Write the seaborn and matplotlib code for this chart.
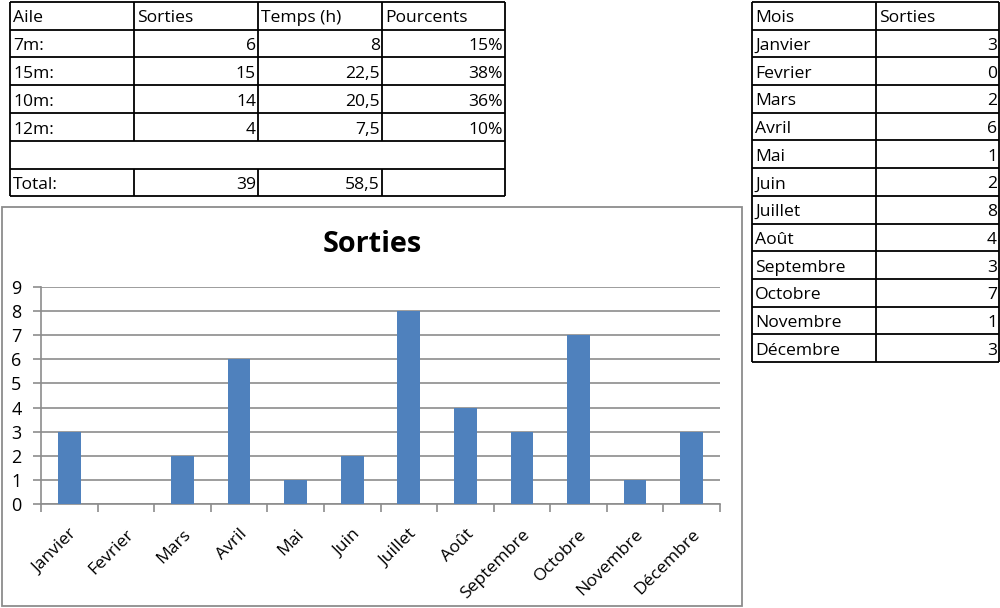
import matplotlib
matplotlib.use("Agg")
import matplotlib.pyplot as plt
import seaborn as sns
import pandas as pd
from matplotlib.patches import Rectangle

# ---- data ----
ailes = ["7m:", "15m:", "10m:", "12m:"]
aile_sorties = ["6", "15", "14", "4"]
aile_temps = ["8", "22,5", "20,5", "7,5"]
aile_pourcents = ["15%", "38%", "36%", "10%"]
total_sorties = "39"
total_temps = "58,5"
table1_header = ["Aile", "Sorties", "Temps (h)", "Pourcents"]

mois = ["Janvier", "Fevrier", "Mars", "Avril", "Mai", "Juin", "Juillet",
        "Août", "Septembre", "Octobre", "Novembre", "Décembre"]
sorties = [3, 0, 2, 6, 1, 2, 8, 4, 3, 7, 1, 3]
table2_header = ["Mois", "Sorties"]
yticks = list(range(0, 10))

sns.set_theme(style="white")
plt.rcParams["font.family"] = ["Open Sans", "DejaVu Sans"]

W, H = 1000, 608
fig = plt.figure(figsize=(W / 100, H / 100), dpi=100)
fig.patch.set_facecolor("white")

# overlay axes in pixel coordinates for tables and chart frame
ov = fig.add_axes([0, 0, 1, 1])
ov.set_xlim(0, W)
ov.set_ylim(H, 0)
ov.axis("off")
ov.set_zorder(0)

FS = 12.6
LW = 1.3

def draw_table(rows, col_x, row_y, align, merged_rows=()):
    for y in row_y:
        ov.plot([col_x[0], col_x[-1]], [y, y], color="black", lw=LW, solid_capstyle="butt")
    for r in range(len(row_y) - 1):
        y0, y1 = row_y[r], row_y[r + 1]
        cols = [col_x[0], col_x[-1]] if r in merged_rows else col_x
        for x in cols:
            ov.plot([x, x], [y0, y1], color="black", lw=LW, solid_capstyle="butt")
        if r in merged_rows:
            continue
        yc = (y0 + y1) / 2 + 2.5
        for c, txt in enumerate(rows[r]):
            if not txt:
                continue
            a = align[r][c]
            if a == "left":
                ov.text(col_x[c] + 3, yc, txt, ha="left", va="center", fontsize=FS, color="black")
            else:
                ov.text(col_x[c + 1] - 2, yc, txt, ha="right", va="center", fontsize=FS, color="black")

# table 1
rows1 = [table1_header]
for i in range(len(ailes)):
    rows1.append([ailes[i], aile_sorties[i], aile_temps[i], aile_pourcents[i]])
rows1.append(["", "", "", ""])
rows1.append(["Total:", total_sorties, total_temps, ""])
align1 = [["left"] * 4] + [["left", "right", "right", "right"]] * 6
col1 = [10, 134, 258, 382, 505]
row1 = [2, 29.5, 57, 85, 113, 141, 168.5, 196]
draw_table(rows1, col1, row1, align1, merged_rows=(5,))

# table 2
rows2 = [table2_header] + [[m, str(v)] for m, v in zip(mois, sorties)]
align2 = [["left", "left"]] + [["left", "right"]] * 12
col2 = [752, 876, 999]
row2 = [2 + i * (362 - 2) / 13 for i in range(14)]
draw_table(rows2, col2, row2, align2)

# chart frame
ov.add_patch(Rectangle((2, 206.5), 740, 399, fill=False, edgecolor="#8c8c8c", lw=1.3))
ov.text(372, 244, "Sorties", ha="center", va="center", fontsize=20.8, fontweight="bold", color="black")

# chart axes
x0, x1, ytop, ybot = 41, 720, 287, 504
ax = fig.add_axes([x0 / W, 1 - ybot / H, (x1 - x0) / W, (ybot - ytop) / H])
ax.set_zorder(2)
df = pd.DataFrame({"Mois": mois, "Sorties": sorties})
sns.barplot(data=df, x="Mois", y="Sorties", color="#4F81BD", width=0.4,
            saturation=1, linewidth=0, ax=ax, zorder=3)
ax.set_xlim(-0.5, len(mois) - 0.5)
ax.set_ylim(0, 9)
ax.set_yticks(yticks)
ax.set_yticklabels([str(t) for t in yticks], fontsize=13)
ax.grid(axis="y", color="#8c8c8c", lw=1.2, zorder=0)
ax.set_axisbelow(True)
ax.set_xlabel("")
ax.set_ylabel("")
for s in ["top", "right"]:
    ax.spines[s].set_visible(False)
for s in ["left", "bottom"]:
    ax.spines[s].set_color("#8c8c8c")
    ax.spines[s].set_linewidth(1.2)
ax.tick_params(axis="y", which="major", left=True, length=6, width=1.2, color="#8c8c8c",
               pad=8, labelcolor="black")
ax.set_xticks(range(len(mois)))
ax.set_xticklabels(mois, rotation=45, ha="right", rotation_mode="anchor", fontsize=12.6)
ax.tick_params(axis="x", which="major", bottom=True, length=0, pad=16, labelcolor="black")
ax.set_xticks([i - 0.5 for i in range(len(mois) + 1)], minor=True)
ax.tick_params(axis="x", which="minor", bottom=True, length=6, width=1.2, color="#8c8c8c")
ax.patch.set_alpha(0)

fig.savefig("out.png", dpi=100, facecolor="white")
